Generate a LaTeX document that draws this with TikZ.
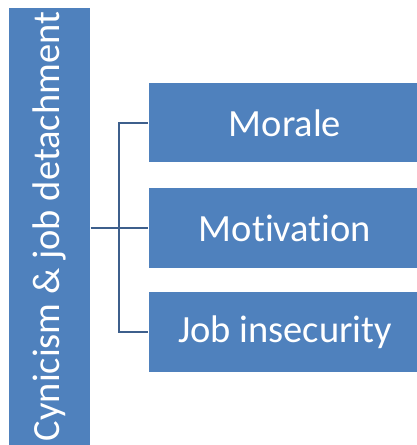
\documentclass[tikz,border=0pt]{standalone}
\usepackage{fontspec}
\setmainfont[Ligatures={NoCommon,NoContextual}]{Carlito}
\definecolor{boxblue}{HTML}{4F81BD}
\definecolor{linkblue}{HTML}{3D5F8C}
\begin{document}
\begin{tikzpicture}[x=1pt,y=1pt,
  catbox/.style={fill=boxblue, draw=white, line width=1pt, text=white, inner sep=0pt,
    font=\fontsize{38.5}{40}\selectfont},
  link/.style={draw=linkblue, line width=2pt}]
\useasboundingbox (0,0) rectangle (417,445);
\clip (0,0) rectangle (417,445);
\node[catbox, rotate=90, minimum width=437, minimum height=81, draw=none] (root) at (49.5,218.5) {Cynicism \& job detachment};
\node[catbox, minimum width=274, minimum height=80] (mor) at (285,322) {Morale};
\node[catbox, minimum width=274, minimum height=81] (mot) at (285,217) {Motivation};
\node[catbox, minimum width=274, minimum height=81] (job) at (285,112.5) {Job insecurity};
\coordinate (j) at (119,217);
\draw[link] (root.south |- mot.west) -- (mot.west);
\draw[link] (mor.west) -| (j) |- (job.west);
\end{tikzpicture}
\end{document}
